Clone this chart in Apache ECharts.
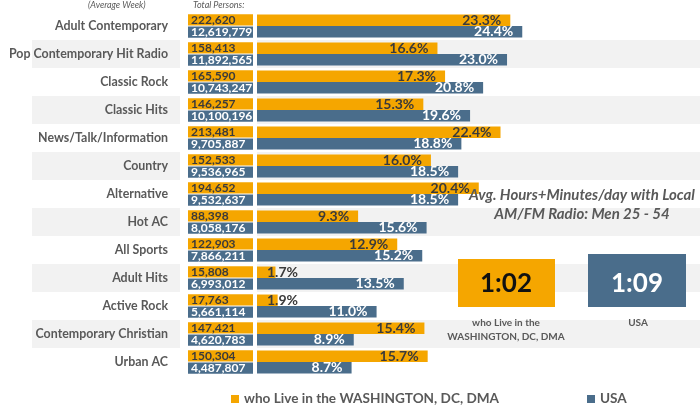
<!DOCTYPE html>
<html>
<head>
<meta charset="utf-8">
<script src="https://cdn.jsdelivr.net/npm/echarts@6/dist/echarts.min.js"></script>
<style>
html,body{margin:0;padding:0;background:#fff;}
#chart{width:700px;height:406px;}
</style>
</head>
<body>
<div id="chart"></div>
<script>
const categories = ['Adult Contemporary','Pop Contemporary Hit Radio','Classic Rock','Classic Hits','News/Talk/Information','Country','Alternative','Hot AC','All Sports','Adult Hits','Active Rock','Contemporary Christian','Urban AC'];
const dcPersons = [222620,158413,165590,146257,213481,152533,194652,88398,122903,15808,17763,147421,150304];
const usaPersons = [12619779,11892565,10743247,10100196,9705887,9536965,9532637,8058176,7866211,6993012,5661114,4620783,4487807];
const dcShare = [23.3,16.6,17.3,15.3,22.4,16.0,20.4,9.3,12.9,1.7,1.9,15.4,15.7];
const usaShare = [24.4,23.0,20.8,19.6,18.8,18.5,18.5,15.6,15.2,13.5,11.0,8.9,8.7];
const seriesNames = ['who Live in the WASHINGTON, DC, DMA','USA'];
const timeLabels = ['1:02','1:09'];
const boxCaptions = ['who Live in the\nWASHINGTON, DC, DMA','USA'];

const ORANGE = '#F5A600';
const BLUE = '#4A6D8B';
const GREY = '#595959';
const STRIPE = '#F2F2F2';
const FONT = 'Lato';

const fmt = n => n.toLocaleString('en-US');

function countSeries(values, color, textColor, upper) {
  return {
    type: 'custom',
    xAxisIndex: 1, yAxisIndex: 1,
    silent: true,
    data: values.map((v, i) => [i, v]),
    encode: { y: 0 },
    renderItem: function (params, api) {
      const cs = params.coordSys;
      const cy = api.coord([0, api.value(0)])[1];
      const band = api.size([0, 1])[1];
      const h = band * 0.4;
      const y = upper ? cy - h - 0.5 : cy + 0.5;
      return {
        type: 'group',
        children: [
          { type: 'rect', shape: { x: cs.x, y: y, width: cs.width, height: h }, style: { fill: color } },
          { type: 'text', x: cs.x + 3, y: y + h / 2 + 0.5,
            style: { text: fmt(api.value(1)), fill: textColor, font: 'bold 12px ' + FONT,
              verticalAlign: 'middle', align: 'left', width: cs.width + 2, overflow: 'truncate', ellipsis: '' } }
        ]
      };
    }
  };
}

const chart = echarts.init(document.getElementById('chart'));
chart.setOption({
  animation: false,
  backgroundColor: '#fff',
  textStyle: { fontFamily: FONT },
  grid: [
    { left: 32, top: 12, width: 148, height: 364 },
    { left: 188, top: 12, width: 65, height: 364 },
    { left: 257, top: 12, right: 0, height: 364 }
  ],
  xAxis: [
    { gridIndex: 0, type: 'value', show: false, min: 0, max: 1 },
    { gridIndex: 1, type: 'value', show: false, min: 0, max: 1 },
    { gridIndex: 2, type: 'value', show: false, min: 0, max: 40.75 }
  ],
  yAxis: [
    { gridIndex: 0, type: 'category', data: categories, inverse: true, position: 'right',
      axisLine: { show: false }, axisTick: { show: false },
      splitArea: { show: true, areaStyle: { color: ['rgba(255,255,255,0)', STRIPE] } },
      axisLabel: { inside: true, margin: 12, color: GREY, fontFamily: FONT, fontWeight: 'bold', fontSize: 12.4 } },
    { gridIndex: 1, type: 'category', data: categories, inverse: true, show: false },
    { gridIndex: 2, type: 'category', data: categories, inverse: true,
      axisLine: { show: false }, axisTick: { show: false }, axisLabel: { show: false },
      splitArea: { show: true, areaStyle: { color: ['rgba(255,255,255,0)', STRIPE] } } }
  ],
  legend: {
    data: seriesNames, left: 226, top: 387, icon: 'rect', itemWidth: 8, itemHeight: 8, itemGap: 88,
    textStyle: { color: GREY, fontFamily: FONT, fontWeight: 'bold', fontSize: 13.6 }
  },
  series: [
    { name: seriesNames[0], type: 'bar', xAxisIndex: 2, yAxisIndex: 2, data: dcShare.map(v => {
        const small = v < 5;
        return { value: v, label: small ? { position: 'insideLeft', distance: 10 } : {} };
      }),
      itemStyle: { color: ORANGE }, barGap: '0%', barCategoryGap: '18%',
      label: { show: true, position: 'insideRight', distance: 9, color: '#3a3a3a', fontFamily: FONT, fontWeight: 'bold', fontSize: 14,
        formatter: p => p.value.toFixed(1) + '%' } },
    { name: seriesNames[1], type: 'bar', xAxisIndex: 2, yAxisIndex: 2, data: usaShare,
      itemStyle: { color: BLUE }, barGap: '0%', barCategoryGap: '18%',
      label: { show: true, position: 'insideRight', distance: 9, color: '#fff', fontFamily: FONT, fontWeight: 'bold', fontSize: 14,
        formatter: p => p.value.toFixed(1) + '%' } },
    countSeries(dcPersons, ORANGE, '#3a3a3a', true),
    countSeries(usaPersons, BLUE, '#fff', false)
  ],
  graphic: {
    elements: [
      { type: 'text', z: 100, left: 88, top: 1, style: { text: '(Average Week)', font: 'italic 9px ' + FONT, fill: GREY } },
      { type: 'text', z: 100, left: 193, top: 1, style: { text: 'Total Persons:', font: 'italic 9px ' + FONT, fill: GREY } },
      { type: 'text', z: 100, x: 582, y: 186, style: { text: 'Avg. Hours+Minutes/day with Local\nAM/FM Radio: Men 25 - 54', font: 'italic bold 15px ' + FONT, fill: GREY, align: 'center', lineHeight: 19 } },
      { type: 'rect', z: 100, shape: { x: 458, y: 259, width: 97, height: 48 }, style: { fill: ORANGE } },
      { type: 'rect', z: 100, shape: { x: 588, y: 254, width: 98, height: 53 }, style: { fill: BLUE } },
      { type: 'text', z: 101, x: 506, y: 284, style: { text: timeLabels[0], font: 'bold 26px ' + FONT, fill: '#111', align: 'center', verticalAlign: 'middle' } },
      { type: 'text', z: 101, x: 637, y: 284, style: { text: timeLabels[1], font: 'bold 26px ' + FONT, fill: '#fff', align: 'center', verticalAlign: 'middle' } },
      { type: 'text', z: 100, x: 506, y: 316, style: { text: boxCaptions[0], font: 'bold 10px ' + FONT, fill: GREY, align: 'center', lineHeight: 14 } },
      { type: 'text', z: 100, x: 638, y: 316, style: { text: boxCaptions[1], font: 'bold 10px ' + FONT, fill: GREY, align: 'center', lineHeight: 14 } }
    ]
  }
});
</script>
</body>
</html>
